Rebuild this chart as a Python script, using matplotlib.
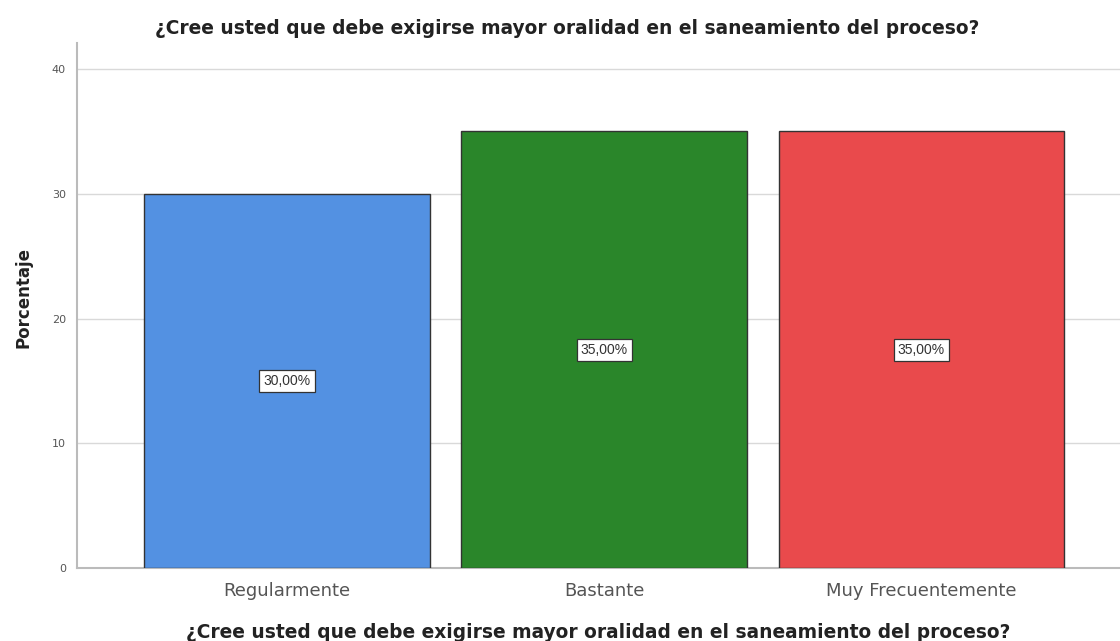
import matplotlib
matplotlib.use("Agg")
import matplotlib.pyplot as plt

plt.rcParams['font.family'] = ['DejaVu Sans']

categorias = ["Regularmente", "Bastante", "Muy Frecuentemente"]
porcentajes = [30.0, 35.0, 35.0]
etiquetas = ["30,00%", "35,00%", "35,00%"]
colores = ["#5391e2", "#2a862a", "#e94a4c"]
titulo = "¿Cree usted que debe exigirse mayor oralidad en el saneamiento del proceso?"

fig = plt.figure(figsize=(11.2, 6.41), dpi=100)
ax = fig.add_axes([0.0688, 0.1139, 0.9312, 0.8191])

x = list(range(len(categorias)))
ax.bar(x, porcentajes, width=0.9, color=colores, edgecolor="#333333", linewidth=1.0, zorder=3)

for xi, v, txt in zip(x, porcentajes, etiquetas):
    ax.text(xi, v / 2, txt, ha="center", va="center", fontsize=10, color="#333333", zorder=4,
            family="Liberation Sans",
            bbox=dict(boxstyle="square,pad=0.3", facecolor="white", edgecolor="#333333", linewidth=0.9))

ax.set_xlim(-0.662, 2.626)
ax.set_ylim(0, 42.1)
ax.set_yticks([0, 10, 20, 30, 40])
ax.set_xticks(x)
ax.set_xticklabels(categorias, fontsize=13, color="#555555")
ax.tick_params(axis="y", labelsize=8, colors="#555555", length=0, pad=8)
ax.tick_params(axis="x", length=0, pad=10)
ax.yaxis.grid(True, color="#d9d9d9", linewidth=1.0, zorder=0)

for s in ["top", "right"]:
    ax.spines[s].set_visible(False)
for s in ["left", "bottom"]:
    ax.spines[s].set_color("#bbbbbb")
    ax.spines[s].set_linewidth(1.5)

ax.set_ylabel("Porcentaje", fontsize=12, fontweight="bold", color="#222222")
ax.yaxis.set_label_coords(-0.043, 0.515)
ax.set_xlabel(titulo, fontsize=13.4, fontweight="bold", color="#222222", labelpad=17)
fig.text(0.506, 0.956, titulo, ha="center", va="center", fontsize=13.4, fontweight="bold", color="#222222")

fig.savefig("out.png", dpi=100, facecolor="white")
